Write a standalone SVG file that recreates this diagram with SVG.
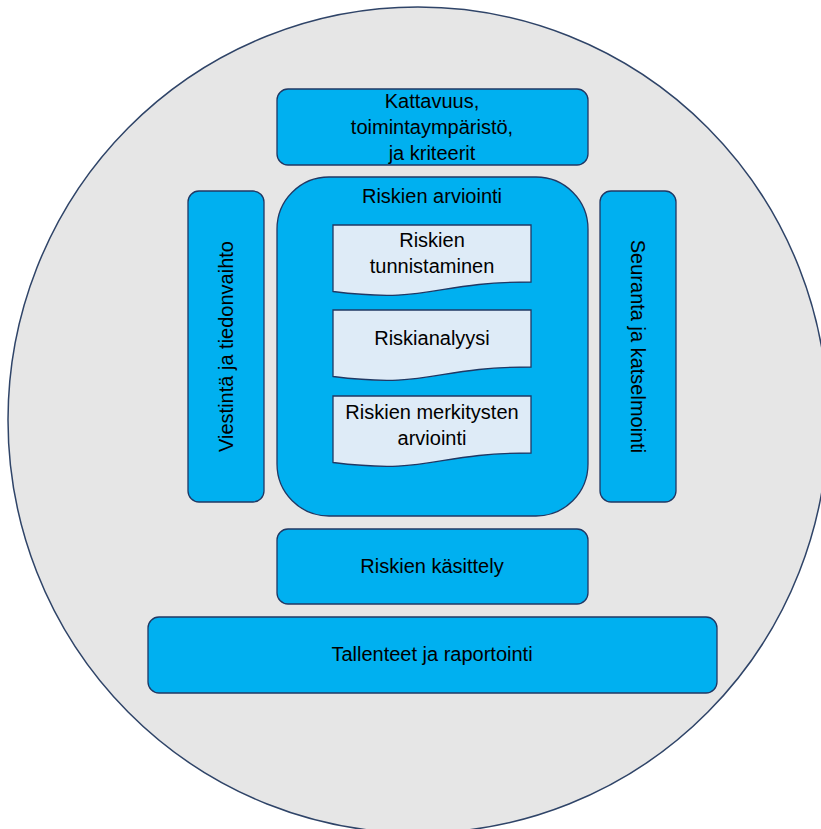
<svg xmlns="http://www.w3.org/2000/svg" width="821" height="829" viewBox="0 0 821 829">
<style>
.box{fill:#00B0F0;stroke:#203864;stroke-width:1.3}
.doc{fill:#DEEBF7;stroke:#203864;stroke-width:1.3}
.t{font-family:"Liberation Sans",Arial,sans-serif;font-size:20px;fill:#000;text-anchor:middle}
</style>
<rect width="821" height="829" fill="#FFFFFF"/>
<ellipse id="circle" cx="418" cy="420" rx="410" ry="413" fill="#E6E6E6" stroke="#2F4468" stroke-width="1.5"/>
<g id="kattavuus">
<rect class="box" x="277" y="89" width="311" height="76" rx="11"/>
<text class="t" x="432" y="108">Kattavuus,</text>
<text class="t" x="432" y="134">toimintaympäristö,</text>
<text class="t" x="432" y="160">ja kriteerit</text>
</g>
<g id="viestinta">
<rect class="box" x="188" y="191" width="76" height="311" rx="11"/>
<text class="t" transform="translate(233,346.5) rotate(-90)">Viestintä ja tiedonvaihto</text>
</g>
<g id="seuranta">
<rect class="box" x="600" y="191" width="76" height="311" rx="11"/>
<text class="t" transform="translate(631,346.5) rotate(90)">Seuranta ja katselmointi</text>
</g>
<g id="arviointi">
<rect class="box" x="277" y="177" width="311" height="339" rx="52"/>
<text class="t" x="432" y="203">Riskien arviointi</text>
</g>
<g id="tunnistaminen">
<path class="doc" d="M333,225 H531 V282 C432,282 432,304 333,291.5 Z"/>
<text class="t" x="432" y="247">Riskien</text>
<text class="t" x="432" y="273">tunnistaminen</text>
</g>
<g id="riskianalyysi">
<path class="doc" d="M333,310 H531 V367 C432,367 432,389 333,376.5 Z"/>
<text class="t" x="432" y="345">Riskianalyysi</text>
</g>
<g id="merkitys">
<path class="doc" d="M333,396 H531 V453 C432,453 432,475 333,462.5 Z"/>
<text class="t" x="432" y="419">Riskien merkitysten</text>
<text class="t" x="432" y="445">arviointi</text>
</g>
<g id="kasittely">
<rect class="box" x="277" y="529" width="311" height="75" rx="11"/>
<text class="t" x="432" y="573">Riskien käsittely</text>
</g>
<g id="tallenteet">
<rect class="box" x="148" y="617" width="569" height="76" rx="11"/>
<text class="t" x="432" y="661">Tallenteet ja raportointi</text>
</g>
<g id="connectors"></g>
</svg>
